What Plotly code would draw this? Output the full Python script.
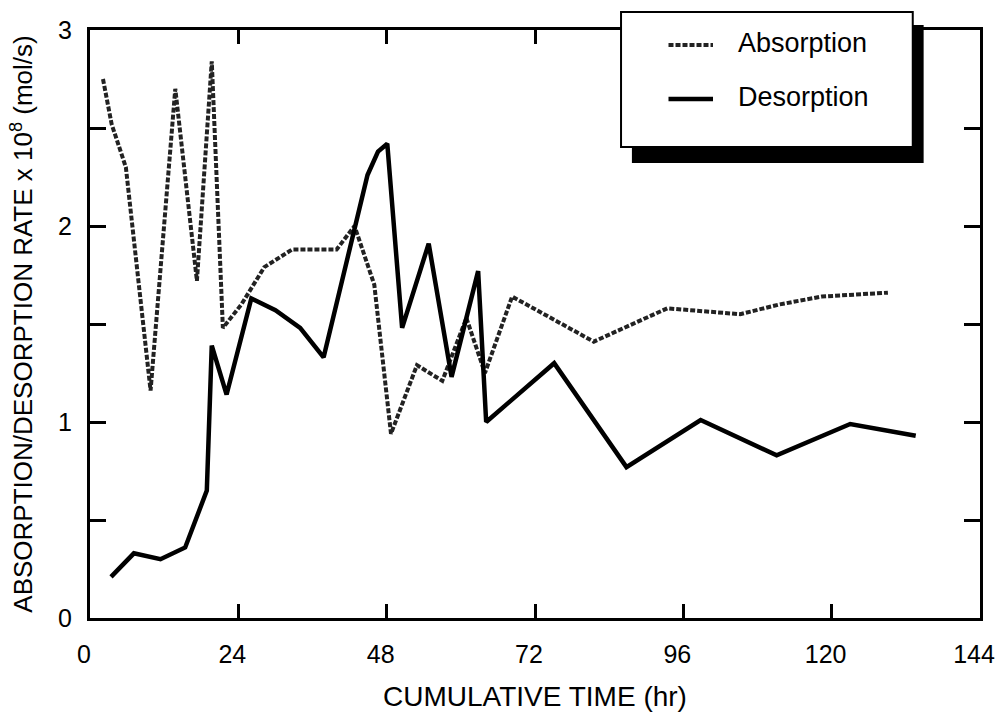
import plotly.graph_objects as go

# ---- data ----
abs_time = [2.1, 3.5, 5.8, 9.8, 13.8, 17.3, 19.7, 21.5, 24.5, 28.2, 32.7, 39.9, 42.8,
            46.0, 48.7, 52.9, 57.0, 60.9, 63.9, 68.3, 81.5, 93.4, 105.2, 111.6, 118.4, 129.1]
abs_rate = [2.75, 2.52, 2.30, 1.16, 2.70, 1.72, 2.84, 1.48, 1.60, 1.79, 1.88, 1.88, 2.00,
            1.70, 0.94, 1.29, 1.21, 1.53, 1.25, 1.64, 1.41, 1.58, 1.55, 1.60, 1.64, 1.66]

des_time = [3.4, 7.1, 11.4, 15.4, 18.9, 19.7, 22.1, 26.1, 30.0, 34.0, 37.8, 44.9, 46.6,
            48.1, 50.5, 54.8, 58.5, 62.8, 64.1, 75.1, 86.8, 98.8, 111.1, 123.0, 133.6]
des_rate = [0.21, 0.33, 0.30, 0.36, 0.65, 1.39, 1.14, 1.63, 1.57, 1.48, 1.33, 2.26, 2.38,
            2.42, 1.48, 1.91, 1.23, 1.77, 1.00, 1.30, 0.77, 1.01, 0.83, 0.99, 0.93]

x_ticks = [0, 24, 48, 72, 96, 120, 144]
y_ticks = [0, 1, 2, 3]
y_minor_ticks = [0.5, 1.5, 2.5]

series_names = ["Absorption", "Desorption"]

FONT = "Liberation Sans, Arial, sans-serif"
ABS_DASH = "5px,2px"

fig = go.Figure()
fig.add_trace(go.Scatter(x=abs_time, y=abs_rate, mode="lines", name=series_names[0],
                         line=dict(color="#222222", width=4, dash=ABS_DASH)))
fig.add_trace(go.Scatter(x=des_time, y=des_rate, mode="lines", name=series_names[1],
                         line=dict(color="black", width=4.5)))

W, H = 1007, 721
ml, mr, mt, mb = 90, 17, 30, 103

def px(xp):
    return (xp - ml) / (W - ml - mr)

def py(yp):
    return 1 - (yp - mt) / (H - mt - mb)

shapes = []
# legend shadow
shapes.append(dict(type="rect", xref="paper", yref="paper",
                   x0=px(638), x1=px(933), y0=py(163), y1=py(25),
                   fillcolor="black", line=dict(width=0), layer="above"))
# legend box
shapes.append(dict(type="rect", xref="paper", yref="paper",
                   x0=px(627), x1=px(922), y0=py(147), y1=py(12),
                   fillcolor="white", line=dict(color="black", width=2), layer="above"))
# legend samples
shapes.append(dict(type="line", xref="paper", yref="paper",
                   x0=px(675), x1=px(720), y0=py(45), y1=py(45),
                   line=dict(color="#222222", width=4, dash=ABS_DASH), layer="above"))
shapes.append(dict(type="line", xref="paper", yref="paper",
                   x0=px(675), x1=px(720), y0=py(99), y1=py(99),
                   line=dict(color="black", width=4.5), layer="above"))
fig.update_layout(shapes=shapes)

annotations = [
    dict(text=series_names[0], xref="paper", yref="paper", x=px(743), y=py(43),
         xanchor="left", yanchor="middle", showarrow=False,
         font=dict(family=FONT, size=27, color="black")),
    dict(text=series_names[1], xref="paper", yref="paper", x=px(743), y=py(97),
         xanchor="left", yanchor="middle", showarrow=False,
         font=dict(family=FONT, size=27, color="black")),
]
fig.update_layout(annotations=annotations)

fig.update_layout(
    width=W, height=H,
    margin=dict(l=ml, r=mr, t=mt, b=mb),
    paper_bgcolor="white", plot_bgcolor="white",
    showlegend=False,
    font=dict(family=FONT, size=24, color="black"),
)
fig.update_xaxes(range=[0, 144], tickvals=x_ticks, ticks="inside", ticklen=14, tickwidth=3,
                 tickcolor="black", showline=True, linewidth=3, linecolor="black",
                 mirror="ticks", showgrid=False, zeroline=False,
                 tickfont=dict(size=25), ticklabelstandoff=12, ticklabelshift=-6,
                 ticklabeloverflow="allow",
                 title=dict(text="CUMULATIVE TIME (hr)", font=dict(size=28), standoff=20))
fig.update_yaxes(range=[0, 3], tickvals=y_ticks, ticks="inside",
                 ticklen=16, tickwidth=3, tickcolor="black", showline=True, linewidth=3,
                 linecolor="black", mirror="ticks", showgrid=False, zeroline=False,
                 minor=dict(tickvals=y_minor_ticks, ticks="inside", ticklen=16, tickwidth=3,
                            tickcolor="black", showgrid=False),
                 tickfont=dict(size=25), ticklabelstandoff=10,
                 title=dict(text="ABSORPTION/DESORPTION RATE x 10<sup>8</sup> (mol/s)",
                            font=dict(size=26), standoff=18))

fig.write_html("out.html")
